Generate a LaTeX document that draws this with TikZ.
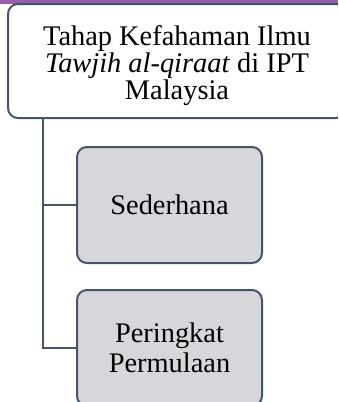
\documentclass[tikz,border=0pt]{standalone}
\usepackage{fontspec}
\setmainfont{Liberation Serif}
\usetikzlibrary{positioning}
\definecolor{frame}{HTML}{44546A}
\definecolor{levelfill}{HTML}{D5D7DB}
\definecolor{banner}{HTML}{9B5CA8}

\begin{document}
\begin{tikzpicture}[
  x=0.5pt, y=-0.5pt,
  %--- shared node styles -----------------------------------------
  topbox/.style={
    rectangle, draw=frame, fill=white, line width=1pt,
    rounded corners=5pt,
    minimum width=169pt, minimum height=57pt,
    align=center, inner sep=0pt,
    font=\fontsize{14.2}{13.5}\selectfont
  },
  levelbox/.style={
    rectangle, draw=frame, fill=levelfill, line width=1pt,
    rounded corners=5pt,
    minimum width=92.5pt, minimum height=58pt,
    align=center, inner sep=0pt,
    font=\fontsize{14.2}{15}\selectfont
  },
  conn/.style={draw=frame, line width=1pt},
]
\useasboundingbox (0,0) rectangle (338,402);
\clip (0,0) rectangle (338,402);

%% --- banner strip along the top ---------------------------------
\fill[banner] (0,0) rectangle (338,3.5);

%% --- ROW 0: heading box -----------------------------------------
\node[topbox] (head) at (177,61)
  {\rule{0pt}{15pt}Tahap Kefahaman Ilmu\\\textit{Tawjih al-qiraat} di IPT\\Malaysia};

%% --- ROW 1 / ROW 2: level boxes ---------------------------------
\node[levelbox] (sed)  at (169.5,205) {Sederhana};
\node[levelbox] (peri) at (169.5,348) {Peringkat\\Permulaan};

%% --- connectors -------------------------------------------------
\coordinate (trunk) at (head.south -| 43,0);
% heading -> Sederhana
\draw[conn] (trunk) |- (sed.west);
% heading -> Peringkat Permulaan
\draw[conn] (trunk) |- (peri.west);

\end{tikzpicture}
\end{document}
